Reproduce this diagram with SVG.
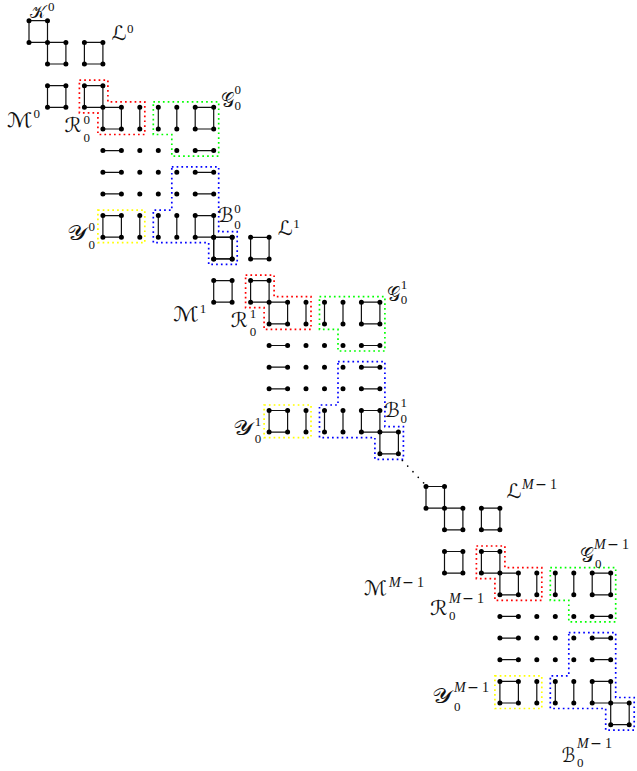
<svg xmlns="http://www.w3.org/2000/svg" width="637" height="771" viewBox="0 0 637 771">
<style>
.e{stroke:#111;stroke-width:1.2;fill:none}
.dots{stroke:#000;stroke-width:5;stroke-linecap:round;fill:none}
.reg{fill:none;stroke-width:1.7;stroke-dasharray:1.7 3.1}
.red{stroke:#f00}.grn{stroke:#0f0}.blu{stroke:#00f}.yel{stroke:#ff0}
.cal{font-family:"DejaVu Serif","DejaVu Sans",serif;font-size:20px;fill:#111}
.s{font-family:"Liberation Serif",serif;font-size:13px;fill:#111}
.m{font-family:"Liberation Serif",serif;font-size:14px;fill:#111}
.i{font-style:italic}
.mn{font-family:"DejaVu Sans",sans-serif}
.ddots{stroke:#000;stroke-width:1.7;stroke-linecap:round;stroke-dasharray:0 7.7;fill:none}
</style>
<defs>
<g id="sq0">
<path class="e" d="M0 0H18.5V21.7H0Z"/>
<path class="dots" d="M0 0h0M18.5 0h0M0 21.7h0"/>
</g>
<g id="body">
<path class="reg red" d="M50.4 59.5H78.9V81.1H115.8V113.8H68.9V92.1H50.4Z"/>
<path class="reg grn" d="M124.3 81.1H189.7V135.4H142.8V113.8H124.3Z"/>
<path class="reg blu" d="M142.8 146.1H189.7V211H208.2V243.7H179.7V222H124.3V189.4H142.8Z"/>
<path class="reg yel" d="M68.9 189.4H115.8V222H68.9Z"/>
<path class="e" d="M18.5 21.7H36.9V43.3H18.5Z M55.4 21.7H73.9V43.3H55.4Z M18.5 65H36.9V86.6H18.5Z M55.4 65H73.9V86.6H55.4Z M73.9 86.6H92.4V108.3H73.9Z M110.8 86.6V108.3 M129.3 86.6V108.3 M147.8 86.6V108.3 M166.2 86.6H184.7V108.3H166.2Z M73.9 129.9H92.4 M166.2 129.9H184.7 M73.9 151.6H92.4 M166.2 151.6H184.7 M73.9 173.2H92.4 M166.2 173.2H184.7 M73.9 194.9H92.4V216.5H73.9Z M110.8 194.9V216.5 M129.3 194.9V216.5 M147.8 194.9V216.5 M166.2 194.9H184.7V216.5H166.2Z M184.7 216.5H203.2V238.2H184.7Z"/>
<path class="dots" d="M18.5 21.7h0M36.9 21.7h0M55.4 21.7h0M73.9 21.7h0 M18.5 43.3h0M36.9 43.3h0M55.4 43.3h0M73.9 43.3h0 M18.5 65h0M36.9 65h0M55.4 65h0M73.9 65h0 M18.5 86.6h0M36.9 86.6h0M55.4 86.6h0M73.9 86.6h0M92.4 86.6h0M110.8 86.6h0M129.3 86.6h0M147.8 86.6h0M166.2 86.6h0M184.7 86.6h0 M73.9 108.3h0M92.4 108.3h0M110.8 108.3h0M129.3 108.3h0M147.8 108.3h0M166.2 108.3h0M184.7 108.3h0 M73.9 129.9h0M92.4 129.9h0M110.8 129.9h0M129.3 129.9h0M147.8 129.9h0M166.2 129.9h0M184.7 129.9h0 M73.9 151.6h0M92.4 151.6h0M110.8 151.6h0M129.3 151.6h0M147.8 151.6h0M166.2 151.6h0M184.7 151.6h0 M73.9 173.2h0M92.4 173.2h0M110.8 173.2h0M129.3 173.2h0M147.8 173.2h0M166.2 173.2h0M184.7 173.2h0 M73.9 194.9h0M92.4 194.9h0M110.8 194.9h0M129.3 194.9h0M147.8 194.9h0M166.2 194.9h0M184.7 194.9h0 M73.9 216.5h0M92.4 216.5h0M110.8 216.5h0M129.3 216.5h0M147.8 216.5h0M166.2 216.5h0M184.7 216.5h0M203.2 216.5h0 M184.7 238.2h0M203.2 238.2h0"/>
</g>
</defs>
<g id="block0" transform="translate(29 20.7)"><use href="#sq0"/><use href="#body"/></g>
<g id="block1" transform="translate(195.2 215.6)"><use href="#body"/></g>
<g id="blockM" transform="translate(426 486.5)"><use href="#sq0"/><use href="#body"/></g>
<g id="connectors"><path class="ddots" d="M402.4 460.5L423.6 482.9"/></g>
<g id="labels0">
<g id="K0"><text class="cal" x="30" y="17.5" style="font-size:17px" textLength="15.5" lengthAdjust="spacingAndGlyphs">𝒦</text><text class="s" x="48" y="11">0</text></g>
<g id="L0"><text class="cal" x="111.5" y="40" textLength="15" lengthAdjust="spacingAndGlyphs">ℒ</text><text class="s" x="127" y="33">0</text></g>
<g id="M0"><text class="cal" x="7" y="126.5" textLength="25.5" lengthAdjust="spacingAndGlyphs">ℳ</text><text class="s" x="33.5" y="118">0</text></g>
<g id="R00"><text class="cal" x="64.5" y="132" textLength="17" lengthAdjust="spacingAndGlyphs">ℛ</text><text class="s" x="83.5" y="123.5">0</text><text class="s" x="83.5" y="141.5">0</text></g>
<g id="G00"><text class="cal" x="220.5" y="106.5" textLength="13" lengthAdjust="spacingAndGlyphs">𝒢</text><text class="s" x="234.5" y="94">0</text><text class="s" x="234.5" y="109.5">0</text></g>
<g id="Y00"><text class="cal" x="66.5" y="240" textLength="20.5" lengthAdjust="spacingAndGlyphs">𝒴</text><text class="s" x="88.5" y="231">0</text><text class="s" x="88.5" y="248.5">0</text></g>
<g id="B00"><text class="cal" x="218" y="221.7" textLength="15.5" lengthAdjust="spacingAndGlyphs">ℬ</text><text class="s" x="234.3" y="212.5">0</text><text class="s" x="234.3" y="228.5">0</text></g>
</g>
<g id="labels1">
<g id="L1"><text class="cal" x="277.7" y="234.9" textLength="15" lengthAdjust="spacingAndGlyphs">ℒ</text><text class="s" x="293.2" y="227.9">1</text></g>
<g id="M1"><text class="cal" x="173.2" y="321.4" textLength="25.5" lengthAdjust="spacingAndGlyphs">ℳ</text><text class="s" x="199.7" y="312.9">1</text></g>
<g id="R01"><text class="cal" x="230.7" y="326.9" textLength="17" lengthAdjust="spacingAndGlyphs">ℛ</text><text class="s" x="249.7" y="318.4">1</text><text class="s" x="249.7" y="336.4">0</text></g>
<g id="G01"><text class="cal" x="386.7" y="301.4" textLength="13" lengthAdjust="spacingAndGlyphs">𝒢</text><text class="s" x="400.7" y="288.9">1</text><text class="s" x="400.7" y="304.4">0</text></g>
<g id="Y01"><text class="cal" x="232.7" y="434.9" textLength="20.5" lengthAdjust="spacingAndGlyphs">𝒴</text><text class="s" x="254.7" y="425.9">1</text><text class="s" x="254.7" y="443.4">0</text></g>
<g id="B01"><text class="cal" x="384.2" y="416.6" textLength="15.5" lengthAdjust="spacingAndGlyphs">ℬ</text><text class="s" x="400.5" y="407.4">1</text><text class="s" x="400.5" y="423.4">0</text></g>
</g>
<g id="labelsM">
<g id="LM"><text class="cal" x="506.5" y="497.5" textLength="15" lengthAdjust="spacingAndGlyphs">ℒ</text><text class="m" x="522" y="489"><tspan class="i">M</tspan><tspan class="mn" dx="1.5">−</tspan><tspan dx="3">1</tspan></text></g>
<g id="MM"><text class="cal" x="364" y="595" textLength="23" lengthAdjust="spacingAndGlyphs">ℳ</text><text class="m" x="389" y="586.7"><tspan class="i">M</tspan><tspan class="mn" dx="1.5">−</tspan><tspan dx="3">1</tspan></text></g>
<g id="RM"><text class="cal" x="430" y="615" textLength="17.5" lengthAdjust="spacingAndGlyphs">ℛ</text><text class="m" x="449" y="603.3"><tspan class="i">M</tspan><tspan class="mn" dx="1.5">−</tspan><tspan dx="3">1</tspan></text><text class="s" x="449" y="620">0</text></g>
<g id="GM"><text class="cal" x="580" y="562" textLength="13.5" lengthAdjust="spacingAndGlyphs">𝒢</text><text class="m" x="594" y="549"><tspan class="i">M</tspan><tspan class="mn" dx="1.5">−</tspan><tspan dx="3">1</tspan></text><text class="s" x="595" y="568">0</text></g>
<g id="YM"><text class="cal" x="432" y="703" textLength="20.5" lengthAdjust="spacingAndGlyphs">𝒴</text><text class="m" x="454" y="692"><tspan class="i">M</tspan><tspan class="mn" dx="1.5">−</tspan><tspan dx="3">1</tspan></text><text class="s" x="454" y="711">0</text></g>
<g id="BM"><text class="cal" x="561.7" y="761.7" textLength="13.5" lengthAdjust="spacingAndGlyphs">ℬ</text><text class="m" x="577" y="748.3"><tspan class="i">M</tspan><tspan class="mn" dx="1.5">−</tspan><tspan dx="3">1</tspan></text><text class="s" x="577" y="766.7">0</text></g>
</g>
</svg>
